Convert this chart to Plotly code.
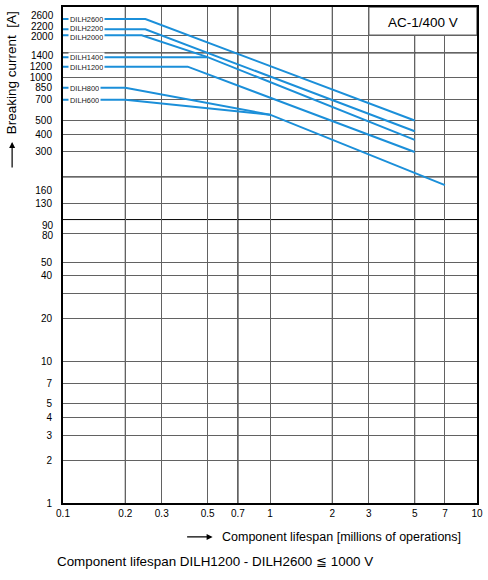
import numpy as np
import plotly.graph_objects as go

# contactor curves: lifespan [millions of operations] vs breaking current [A]
names = ["DILH2600", "DILH2200", "DILH2000", "DILH1400", "DILH1200", "DILH800", "DILH600"]
lifespan = [
    [0.1, 0.25, 5],
    [0.1, 0.25, 5],
    [0.1, 0.24, 0.5],
    [0.1, 0.5, 5],
    [0.1, 0.4, 5],
    [0.1, 0.2, 1],
    [0.1, 0.2, 1, 7],
]
current = [
    [2600, 2600, 500],
    [2200, 2200, 420],
    [2000, 2000, 1400],
    [1400, 1400, 365],
    [1200, 1200, 300],
    [850, 850, 550],
    [700, 700, 550, 175],
]

x_ticks = [0.1, 0.2, 0.3, 0.5, 0.7, 1, 2, 3, 5, 7, 10]
x_dark = [0.2, 0.7, 2, 5]
y_ticks = [1, 2, 3, 4, 5, 7, 10, 20, 40, 50, 130, 160,
           300, 400, 500, 700, 850, 1000, 1200]
# labels that sit too close together on the axis, written beside it and nudged apart
y_crowded = [2600, 2200, 2000, 1400, 90, 80]
y_nudge = [4, 2.5, -1.5, 1.2, 1, -2.5]
y_grid = [2, 3, 4, 5, 7, 10, 20, 30, 40, 50, 80, 130, 300, 400, 500, 700, 1000, 2000]
y_dark = [100, 200, 1500]

FONT = "Liberation Sans, Arial, sans-serif"
BLUE = "#1b8fd9"
GRID = "#626262"
Y_TOP = 3.5

fig = go.Figure()
nudge = {"DILH2200": 1.5, "DILH2000": -1.5}
for name, xs, ys in zip(names, lifespan, current):
    fig.add_trace(go.Scatter(x=xs, y=ys, mode="lines", name=name,
                             line=dict(color=BLUE, width=2)))
    # label sits on the flat part of the curve
    fig.add_annotation(x=np.log10(xs[0]), y=np.log10(ys[0]), text=name,
                       showarrow=False, xanchor="left", xshift=5, yshift=nudge.get(name, 0),
                       font=dict(family=FONT, size=7.4, color="#222"),
                       bgcolor="white", borderpad=1, height=6)

for v, dy in zip(y_crowded, y_nudge):
    fig.add_annotation(xref="paper", x=0, y=np.log10(v), text=str(v), showarrow=False,
                       xanchor="right", yanchor="middle", xshift=-7, yshift=dy,
                       font=dict(family=FONT, size=10, color="black"))

shapes = []
for v in x_dark:
    shapes.append(dict(type="line", xref="x", yref="paper", x0=v, x1=v, y0=0, y1=1,
                       line=dict(color="black", width=1), layer="between"))
for v in y_dark:
    shapes.append(dict(type="line", xref="paper", yref="y", x0=0, x1=1, y0=v, y1=v,
                       line=dict(color="black", width=1), layer="between"))
# AC-1 box in the top right corner
shapes.append(dict(type="rect", xref="x", yref="y", x0=3, x1=10, y0=2000, y1=10 ** Y_TOP,
                   fillcolor="white", line=dict(color=GRID, width=1.4), layer="above"))
fig.update_layout(shapes=shapes)

fig.add_annotation(xref="paper", yref="paper", x=0.87, y=0.968, text="AC-1/400 V",
                   xanchor="center", yanchor="middle",
                   showarrow=False, font=dict(family=FONT, size=13.5, color="black"))

# axis titles with arrows
fig.add_annotation(xref="paper", yref="paper", x=-0.1236, y=0.868, text="Breaking current  [A]",
                   textangle=-90, showarrow=False, xanchor="center", yanchor="middle",
                   font=dict(family=FONT, size=13.5, color="black"))
fig.add_annotation(xref="paper", yref="paper", x=-0.1229, y=0.728, text="", showarrow=True,
                   ax=0, ay=27, arrowhead=2, arrowsize=1, arrowwidth=1.2, arrowcolor="black")
fig.add_annotation(xref="paper", yref="paper", x=0.6716, y=-0.0683,
                   text="Component lifespan [millions of operations]",
                   showarrow=False, xanchor="center", yanchor="middle",
                   font=dict(family=FONT, size=12.5, color="black"))
fig.add_annotation(xref="paper", yref="paper", x=0.3614, y=-0.0683, text="", showarrow=True,
                   ax=-27, ay=0, arrowhead=2, arrowsize=1, arrowwidth=1.2, arrowcolor="black")
fig.add_annotation(xref="paper", yref="paper", x=-0.0193, y=-0.1185,
                   text="Component lifespan DILH1200 - DILH2600 \u2266 1000 V",
                   showarrow=False, xanchor="left", yanchor="middle",
                   font=dict(family=FONT, size=13.4, color="black"))

fig.update_xaxes(type="log", range=[-1, 1], tickvals=x_ticks,
                 ticktext=[str(v) for v in x_ticks],
                 showgrid=True, gridcolor=GRID, gridwidth=1.4, zeroline=False,
                 showline=True, mirror=True, linecolor="black", linewidth=2,
                 ticks="", tickfont=dict(family=FONT, size=10, color="black"))
fig.update_yaxes(type="log", range=[0, Y_TOP], tickvals=y_ticks,
                 ticktext=[str(v) for v in y_ticks], showgrid=False,
                 minor=dict(tickvals=y_grid, showgrid=True, gridcolor=GRID, gridwidth=1.4, ticks=""),
                 zeroline=False, showline=True, mirror=True, linecolor="black", linewidth=2,
                 ticks="", ticklabelstandoff=7, tickfont=dict(family=FONT, size=10, color="black"))

fig.update_layout(width=488, height=580, margin=dict(l=63, r=10, t=5, b=77),
                  plot_bgcolor="white", paper_bgcolor="white", showlegend=False)

fig.write_html("out.html", config={"displayModeBar": False},
               post_script="document.body.style.margin='0px';")
